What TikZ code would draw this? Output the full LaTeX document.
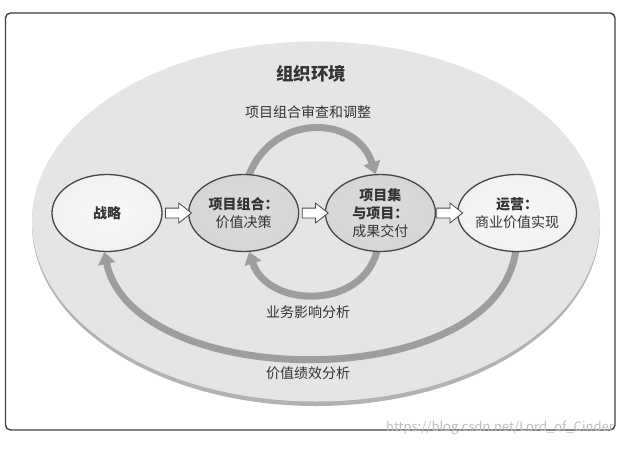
\documentclass[tikz,border=0pt]{standalone}
\usepackage{fontspec}
\setmainfont{Noto Sans CJK SC}
\usepackage{tikz}
\usetikzlibrary{positioning, shapes.geometric, shapes.arrows, arrows.meta, backgrounds}
\pgfdeclareradialshading{lite}{\pgfpoint{0bp}{0bp}}{color(0bp)=(black!3); color(36bp)=(black!6); color(46bp)=(black!11); color(50bp)=(black!22)}
\pgfdeclareradialshading{dark}{\pgfpoint{0bp}{0bp}}{color(0bp)=(black!14); color(36bp)=(black!17); color(46bp)=(black!22); color(50bp)=(black!32)}
\newcommand\Clr{lite}

\begin{document}
\begin{tikzpicture}[x=1pt, y=1pt,
    stage/.style={ellipse, draw=black!72, line width=1.3pt, minimum width=110pt, minimum height=77pt,
      inner sep=0pt, align=center, text=black!80, font=\fontsize{14}{18}\selectfont},
    hollow/.style={single arrow, draw=black!72, fill=white, line width=0.8pt, minimum height=26pt,
      minimum width=0pt, single arrow head extend=5pt, single arrow tip angle=76, inner sep=4.5pt},
    flow/.style={draw=black!38, line width=7pt, -{Triangle[length=12pt, width=17pt]}},
    lbl/.style={text=black!80, font=\fontsize{14}{16}\selectfont}]
                \useasboundingbox (0,0) rectangle (626,448);

                \foreach \a/\t in {1/{\textbf{战略}}, 2/{\textbf{项目组合：}\\价值决策},
                    3/{\textbf{项目集}\\\textbf{与项目：}\\成果交付}, 4/{\textbf{运营：}\\商业价值实现}} {
                  \ifnum\ifnum\a=2 1\else\ifnum\a=3 1\else0 \fi\fi =1 %
                      \renewcommand\Clr{dark}
                  \fi
                  \node[stage, shading=\Clr] at (\a*136.7-29.7, 235) (n\a) {\t};
                }

                \foreach \a/\b in {1/2, 2/3, 3/4}
                  \path (n\a.east) -- (n\b.west) node[midway, hollow] (h\a) {};

                \node[lbl, font=\fontsize{17.5}{18}\selectfont\bfseries] at (311, 374) (env) {组织环境};
                \node[lbl] at (308, 336) (rev) {项目组合审查和调整};
                \node[lbl] at (308, 136) (imp) {业务影响分析};
                \node[lbl] at (308, 75) (val) {价值绩效分析};
                \node[text=black!25, font=\fontsize{13}{14}\selectfont, anchor=east, inner sep=0pt] at (614, 20) (url)
                  {https://blog.csdn.net/Lord\_of\_Cinder};

                \begin{scope}[on background layer]
                  \draw[black!75, line width=1.4pt, fill=white, rounded corners=5pt] (5.5,18) rectangle (615,435);
                  \fill[black!30] (316,224) ellipse [x radius=284, y radius=182];
                  \fill[black!10] (316,226.5) ellipse [x radius=284, y radius=180];
                  \draw[flow, shorten <=-6pt] (n2.82) to[out=72, in=108, looseness=1.3] (n3.97);
                  \draw[flow, shorten <=-6pt] (n3.265) to[out=-100, in=-72, looseness=1.2] (n2.278);
                  \draw[flow, shorten <=-6pt] (n4.268) to[out=-95, in=-78, looseness=0.9] (n1.266);
                \end{scope}
            \end{tikzpicture}
\end{document}
